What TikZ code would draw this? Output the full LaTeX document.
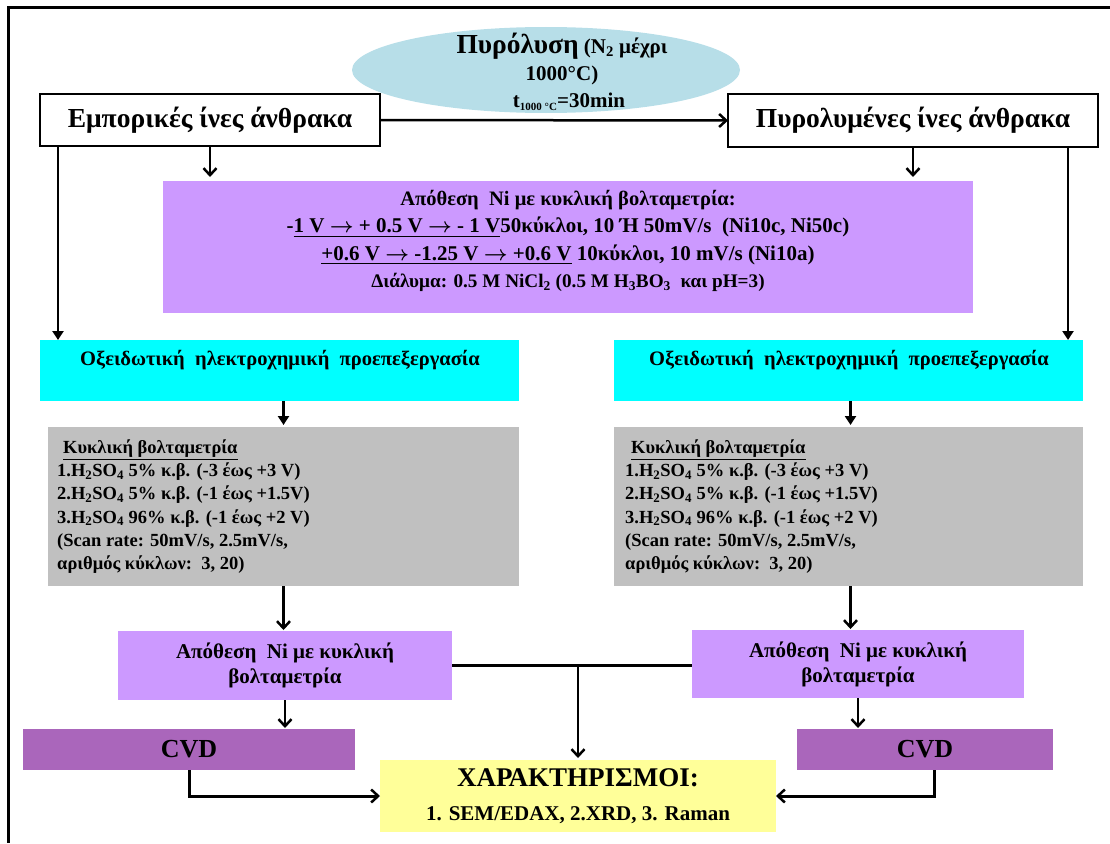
\documentclass[tikz,border=0pt]{standalone}
\usepackage{fontspec}
\setmainfont{Liberation Serif}
\usetikzlibrary{arrows.meta,shapes.geometric,calc}
\newcommand\fsz[2]{\fontsize{#1}{#2}\selectfont}
\newcommand\rarr{\ensuremath{\boldsymbol{\rightarrow}}}
\usepackage{amsmath}
\begin{document}
\begin{tikzpicture}[x=1pt,y=-1pt,
  panel/.style={draw=none, inner sep=0pt, outer sep=0pt, font=\bfseries, align=center},
  whitebox/.style={panel, draw=black, line width=1.6pt, fill=white},
  lilac/.style={panel, fill=lilacc},
  cyanbox/.style={panel, fill=cyanc},
  greybox/.style={panel, fill=greyc},
  cvdbox/.style={panel, fill=cvdc},
  yellowbox/.style={panel, fill=yellowc},
  txt/.style={inner sep=0pt, font=\bfseries, align=center},
  arr/.style={-{Straight Barb[length=7pt,width=13pt,line width=2.5pt]}, line width=2.5pt},
  tri/.style={-{Triangle[length=9pt,width=11pt]}, line width=2.5pt},
]
\definecolor{lilacc}{RGB}{204,153,255}
\definecolor{cyanc}{RGB}{0,255,255}
\definecolor{greyc}{RGB}{192,192,192}
\definecolor{cvdc}{RGB}{170,102,187}
\definecolor{yellowc}{RGB}{255,255,153}
\definecolor{ellc}{RGB}{183,222,232}

\useasboundingbox (0,0) rectangle (1110,843);

% outer frame (top and left edges only)
\draw[line width=3pt] (1110,8) -- (8,8) -- (8,843);

% pyrolysis ellipse
\node[ellipse, fill=ellc, inner sep=0pt, minimum width=388, minimum height=86] (ell) at (546,70) {};
\node[txt, font=\bfseries\fsz{21}{27}] (ellt) at (562,72)
  {{\fsz{27.5}{27}Πυρόλυση} (N\textsubscript{2} μέχρι\\1000°C)\\\hspace*{14pt}{\fsz{21}{27}t{\fsz{11}{11}\raisebox{-3pt}{1000 °C}}=30min}};

% fibre boxes
\node[whitebox, minimum width=340, minimum height=52, font=\bfseries\fsz{27.5}{30}] (emp) at (210,120) {Εμπορικές ίνες άνθρακα};
\node[whitebox, minimum width=370, minimum height=53, font=\bfseries\fsz{27.5}{30}] (pyr) at (913,120.5) {Πυρολυμένες ίνες άνθρακα};

% Ni deposition (top)
\node[lilac, minimum width=810, minimum height=132] (dep) at (568,247) {};
\node[txt, font=\bfseries\fsz{21}{27.3}] (dept) at (568,241)
  {{\fsz{20.5}{27.3}Απόθεση~~Ni με κυκλική βολταμετρία:}\\
   -\underline{1 V \rarr{} + 0.5 V \rarr{} - 1 V}50κύκλοι, 10 Ή 50mV/s~~(Ni10c, Ni50c)\\
   \underline{+0.6 V \rarr{} -1.25 V \rarr{} +0.6 V} 10κύκλοι, 10 mV/s (Ni10a)\\
   {\fsz{19.2}{27.3}Διάλυμα: 0.5 M NiCl\textsubscript{2} (0.5 M H\textsubscript{3}BO\textsubscript{3}~~και pH=3)}};

% oxidative pretreatment
\node[cyanbox, minimum width=479, minimum height=61] (oxL) at (279.5,370.5) {};
\node[cyanbox, minimum width=469, minimum height=61] (oxR) at (848.5,370.5) {};
\node[txt, font=\bfseries\fsz{20.5}{22}] (oxLt) at (280,360) {Οξειδωτική~~ηλεκτροχημική~~προεπεξεργασία};
\node[txt, font=\bfseries\fsz{20.5}{22}] (oxRt) at (849,360) {Οξειδωτική~~ηλεκτροχημική~~προεπεξεργασία};

% cyclic voltammetry
\node[greybox, minimum width=471, minimum height=159] (cvL) at (283.5,506.5) {};
\node[greybox, minimum width=469, minimum height=159] (cvR) at (848.5,506.5) {};
\node[txt, align=left, anchor=north west, font=\bfseries\fsz{18.5}{23.2}] (cvLt) at (57,439.5)
  {\hspace{6pt}\underline{Κυκλική βολταμετρία}\\
   1.H\textsubscript{2}SO\textsubscript{4} 5\% κ.β. (-3 έως +3 V)\\
   2.H\textsubscript{2}SO\textsubscript{4} 5\% κ.β. (-1 έως +1.5V)\\
   3.H\textsubscript{2}SO\textsubscript{4} 96\% κ.β. (-1 έως +2 V)\\
   (Scan rate: 50mV/s, 2.5mV/s,\\
   αριθμός κύκλων:~~3, 20)};
\node[txt, align=left, anchor=north west, font=\bfseries\fsz{18.5}{23.2}] (cvRt) at (625,439.5)
  {\hspace{6pt}\underline{Κυκλική βολταμετρία}\\
   1.H\textsubscript{2}SO\textsubscript{4} 5\% κ.β. (-3 έως +3 V)\\
   2.H\textsubscript{2}SO\textsubscript{4} 5\% κ.β. (-1 έως +1.5V)\\
   3.H\textsubscript{2}SO\textsubscript{4} 96\% κ.β. (-1 έως +2 V)\\
   (Scan rate: 50mV/s, 2.5mV/s,\\
   αριθμός κύκλων:~~3, 20)};

% Ni deposition (lower)
\node[lilac, minimum width=334, minimum height=69, font=\bfseries\fsz{21}{25}] (niL) at (285,665.5) {Απόθεση~~Ni με κυκλική\\βολταμετρία};
\node[lilac, minimum width=332, minimum height=68, font=\bfseries\fsz{21}{25}] (niR) at (858,664) {Απόθεση~~Ni με κυκλική\\βολταμετρία};

% CVD
\node[cvdbox, minimum width=332, minimum height=41, font=\bfseries\fsz{26}{28}] (cvdL) at (189,749.5) {CVD};
\node[cvdbox, minimum width=256, minimum height=41, font=\bfseries\fsz{26}{28}] (cvdR) at (925,749.5) {CVD};

% characterisation
\node[yellowbox, minimum width=396, minimum height=72] (chr) at (578,796) {};
\node[txt, font=\bfseries\fsz{27}{34}] (chrt) at (578,796)
  {ΧΑΡΑΚΤΗΡΙΣΜΟΙ:\\{\fsz{21}{20}1. SEM/EDAX, 2.XRD, 3. Raman}};

% connectors
\draw[arr] (emp.east) -- (pyr.west);
\draw[arr, shorten >=4pt] (emp.south) -- (emp.south |- dep.north);
\draw[arr, shorten >=4pt] (pyr.south) -- (pyr.south |- dep.north);
\draw[tri] ([xshift=18pt]emp.south west) -- ([xshift=18pt]oxL.north west);
\draw[tri] ([xshift=-30pt]pyr.south east) -- ([xshift=-30pt]pyr.south east |- oxR.north);
\draw[tri, shorten >=2pt] (cvL.north |- oxL.south) -- (cvL.north);
\draw[tri, shorten >=2pt] ([xshift=2pt]oxR.south) -- ([xshift=2pt]cvR.north);
\draw[arr, shorten >=1pt] (cvL.south) -- (cvL.south |- niL.north);
\draw[arr, shorten >=1pt] ([xshift=2pt]cvR.south) -- ([xshift=2pt]cvR.south |- niR.north);
\draw[arr, shorten >=1pt] (niL.south) -- (niL.south |- cvdL.north);
\draw[arr, shorten >=1pt] (niR.south) -- (niR.south |- cvdL.north);
\draw[line width=3.5pt] (niL.east) -- (niL.east -| niR.west);
\draw[arr, shorten >=2pt] (niL.east -| chr.north) -- (chr.north);
\draw[arr, line width=3pt] (cvdL.south) |- (chr.west);
\draw[arr, line width=3pt] ([xshift=9pt]cvdR.south) |- (chr.east);
\end{tikzpicture}
\end{document}
